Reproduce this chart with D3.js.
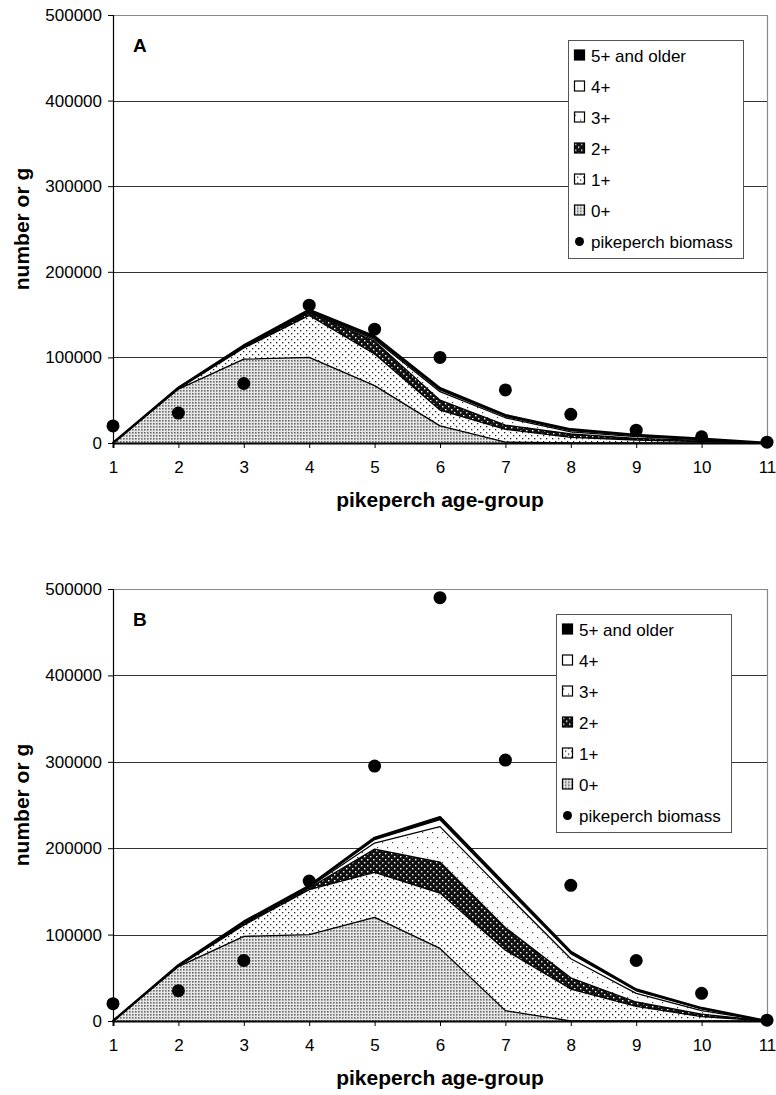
<!DOCTYPE html>
<html>
<head>
  <title>Pikeperch age-groups</title>
  <script src="https://d3js.org/d3.v7.min.js"></script>
  <style>
    body { margin: 0; background: #fff; }
    text { font-family: "Liberation Sans", Arial, sans-serif; fill: #000; }
  </style>
</head>
<body>
<script type="text/javascript">
  var w = 776;
  var h = 1095;

  // pikeperch age-group on the x axis
  var ages = [1, 2, 3, 4, 5, 6, 7, 8, 9, 10, 11];
  var keys = ["0+", "1+", "2+", "3+", "4+", "5+ and older"];
  var yTicks = [0, 100000, 200000, 300000, 400000, 500000];

  // panel A, prey age classes (stacked)
  var a0 = [0, 63000, 98000, 100000, 67000, 20000, 1000, 0, 0, 0, 0];
  var a1 = [0, 500, 13000, 49000, 37000, 18500, 15000, 6600, 3500, 1500, 0];
  var a2 = [0, 500, 1000, 3000, 15000, 11500, 5000, 3900, 2000, 1500, 0];
  var a3 = [0, 200, 1000, 1000, 2000, 10000, 8500, 2500, 2000, 1000, 0];
  var a4 = [0, 200, 500, 1000, 1500, 2000, 1500, 1500, 1000, 500, 0];
  var a5 = [0, 200, 500, 1500, 2000, 2000, 1600, 1500, 800, 500, 0];
  var biomassA = [20000, 35000, 69500, 161000, 133000, 100000, 62000, 33500, 15000, 7300, 1000];

  // panel B
  var b0 = [0, 63000, 98000, 100000, 120000, 84000, 12000, 0, 0, 0, 0];
  var b1 = [0, 500, 13000, 52000, 52000, 64000, 70000, 37000, 17000, 5000, 0];
  var b2 = [0, 500, 2000, 2000, 27000, 36000, 26000, 13000, 5000, 3000, 0];
  var b3 = [0, 200, 1000, 1000, 7000, 41000, 40000, 22000, 10000, 4000, 0];
  var b4 = [0, 200, 500, 500, 4000, 8000, 7000, 6000, 3000, 2000, 0];
  var b5 = [0, 200, 500, 1000, 2000, 3000, 3000, 2000, 1500, 1000, 0];
  var biomassB = [20000, 35000, 70000, 162000, 295000, 490000, 302000, 157000, 70000, 32000, 1000];

  var svg = d3.select("body").append("svg")
    .attr("width", w)
    .attr("height", h);

  // fill patterns, one per age class
  var defs = svg.append("defs");
  function pattern(id, size, bg, dots, dotColor, r) {
    var p = defs.append("pattern").attr("id", id)
      .attr("patternUnits", "userSpaceOnUse")
      .attr("width", size).attr("height", size);
    p.append("rect").attr("width", size).attr("height", size).attr("fill", bg);
    dots.forEach(function(d){
      p.append("rect").attr("x", d[0]).attr("y", d[1])
        .attr("width", r).attr("height", r).attr("fill", dotColor);
    });
  }
  pattern("p0", 3, "#e6e6e6", [[0, 0]], "#6a6a6a", 1.6);
  pattern("p1", 6, "#fff", [[0, 0], [3, 3]], "#222", 1.3);
  pattern("p2", 6, "#111", [[1, 1], [4, 4]], "#fff", 1.4);
  pattern("p3", 10, "#fff", [[2, 2], [7, 7]], "#444", 1.2);
  var fills = ["url(#p0)", "url(#p1)", "url(#p2)", "url(#p3)", "#fff", "#000"];

  function panel(cfg) {
    var x = d3.scaleLinear().domain([1, 11]).range([113, 767]);
    var y = d3.scaleLinear().domain([0, 500000]).range([cfg.bottom, cfg.top]);
    var g = svg.append("g");

    var rows = ages.map(function(a, i){
      var o = { age: a };
      keys.forEach(function(k, j){ o[k] = cfg.series[j][i]; });
      return o;
    });
    var stacked = d3.stack().keys(keys)(rows);

    // gridlines
    g.selectAll("line.grid")
      .data(yTicks.slice(1, 5))
      .enter()
      .append("line")
      .attr("x1", 113).attr("x2", 767)
      .attr("y1", function(d){ return Math.round(y(d)) + 0.5; })
      .attr("y2", function(d){ return Math.round(y(d)) + 0.5; })
      .attr("stroke", "#333").attr("stroke-width", 1);

    // plot frame (top and right in grey)
    g.append("path")
      .attr("d", "M113," + (Math.round(y(500000)) + 0.5) + "H767.5V" + cfg.bottom)
      .attr("fill", "none").attr("stroke", "#888").attr("stroke-width", 1.2);

    var area = d3.area()
      .x(function(d){ return x(d.data.age); })
      .y0(function(d){ return y(d[0]); })
      .y1(function(d){ return y(d[1]); });
    var topLine = d3.line()
      .x(function(d){ return x(d.data.age); })
      .y(function(d){ return y(d[1]); });

    g.selectAll("path.area")
      .data(stacked)
      .enter()
      .append("path")
      .attr("d", area)
      .attr("fill", function(d, i){ return fills[i]; });

    g.selectAll("path.edge")
      .data(stacked)
      .enter()
      .append("path")
      .attr("d", topLine)
      .attr("fill", "none")
      .attr("stroke", "#000")
      .attr("stroke-linejoin", "round")
      .attr("stroke-width", function(d, i){ return i == 5 ? 2.4 : 1.3; });

    // axes
    var yAxis = d3.axisLeft(y).tickValues(yTicks).tickSize(5).tickPadding(6)
      .tickFormat(d3.format("d"));
    var ya = g.append("g").attr("transform", "translate(113,0)").call(yAxis);
    ya.select(".domain").attr("stroke", "#000").attr("stroke-width", 1.2);
    ya.selectAll("text").style("font-size", "17px").attr("fill", "#000");

    var xAxis = d3.axisBottom(x).tickValues(ages).tickSize(5).tickPadding(13)
      .tickFormat(d3.format("d"));
    var xa = g.append("g").attr("transform", "translate(0," + cfg.bottom + ")").call(xAxis);
    xa.select(".domain").attr("stroke", "#000").attr("stroke-width", 2);
    xa.selectAll("text").style("font-size", "17px").attr("fill", "#000");

    // biomass points
    g.selectAll("circle")
      .data(cfg.biomass)
      .enter()
      .append("circle")
      .attr("cx", function(d, i){ return x(ages[i]); })
      .attr("cy", function(d){ return y(d); })
      .attr("r", 6.5)
      .attr("fill", "#000");

    // titles
    g.append("text")
      .attr("x", 440).attr("y", cfg.bottom + 64)
      .attr("text-anchor", "middle")
      .style("font-size", "21px").style("font-weight", "bold")
      .text("pikeperch age-group");
    g.append("text")
      .attr("transform", "translate(29," + ((cfg.top + cfg.bottom) / 2) + ")rotate(-90)")
      .attr("text-anchor", "middle")
      .style("font-size", "21px").style("font-weight", "bold")
      .text("number or g");
    g.append("text")
      .attr("x", 133).attr("y", cfg.top + 37)
      .style("font-size", "19px").style("font-weight", "bold")
      .text(cfg.label);

    // legend
    var lx = cfg.legendX, ly = cfg.top + 25;
    var leg = g.append("g");
    leg.append("rect")
      .attr("x", lx + 0.5).attr("y", ly + 0.5)
      .attr("width", 175).attr("height", 218)
      .attr("fill", "#fff").attr("stroke", "#555").attr("stroke-width", 1);
    var items = keys.slice().reverse().map(function(k){
      return { name: k, fill: fills[keys.indexOf(k)] };
    });
    items.push({ name: "pikeperch biomass", dot: true });
    var it = leg.selectAll("g.item")
      .data(items)
      .enter()
      .append("g")
      .attr("transform", function(d, i){ return "translate(" + lx + "," + (ly + 15.5 + i * 31) + ")"; });
    it.filter(function(d){ return !d.dot; })
      .append("rect")
      .attr("x", 6.5).attr("y", -5.5).attr("width", 10).attr("height", 10)
      .attr("fill", function(d){ return d.fill; })
      .attr("stroke", "#000").attr("stroke-width", 1.2);
    it.filter(function(d){ return d.dot; })
      .append("circle")
      .attr("cx", 11.5).attr("cy", 0).attr("r", 4.5).attr("fill", "#000");
    it.append("text")
      .attr("x", 23).attr("y", 6)
      .style("font-size", "17px")
      .text(function(d){ return d.name; });
  }

  panel({ label: "A", top: 15, bottom: 443, legendX: 568,
          series: [a0, a1, a2, a3, a4, a5], biomass: biomassA });
  panel({ label: "B", top: 589, bottom: 1021, legendX: 556,
          series: [b0, b1, b2, b3, b4, b5], biomass: biomassB });
</script>
</body>
</html>
